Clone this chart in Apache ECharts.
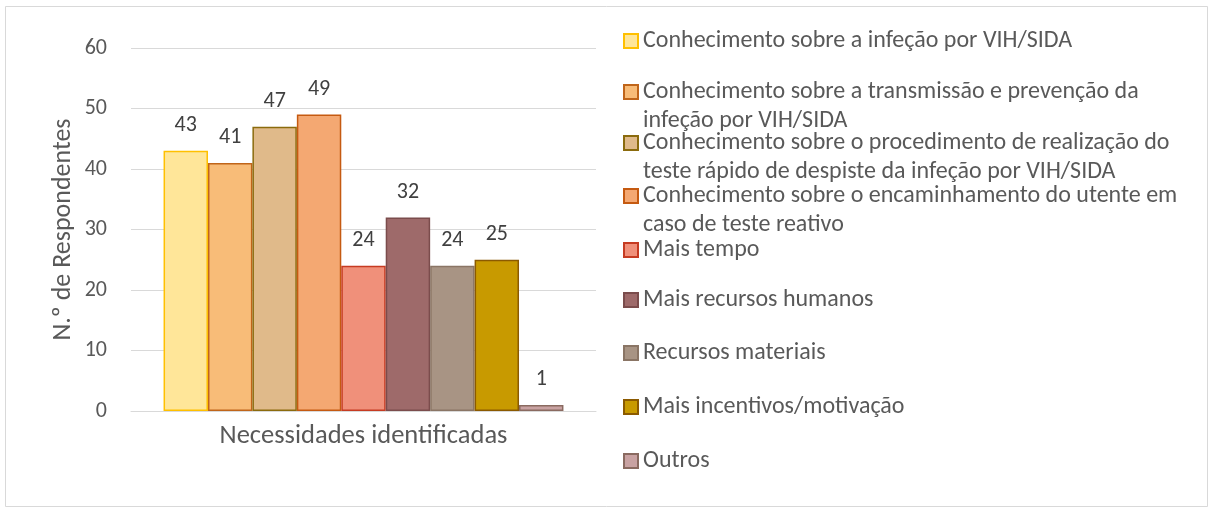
<!DOCTYPE html>
<html>
<head>
<meta charset="utf-8">
<script src="https://cdn.jsdelivr.net/npm/echarts@6/dist/echarts.min.js"></script>
<style>
html,body{margin:0;padding:0;background:#fff;}
#chart{width:1209px;height:508px;}
</style>
</head>
<body>
<div id="chart"></div>
<script>
const category = ['Necessidades identificadas'];
const seriesNames = [
  'Conhecimento sobre a infeção por VIH/SIDA',
  'Conhecimento sobre a transmissão e prevenção da infeção por VIH/SIDA',
  'Conhecimento sobre o procedimento de realização do teste rápido de despiste da infeção por VIH/SIDA',
  'Conhecimento sobre o encaminhamento do utente em caso de teste reativo',
  'Mais tempo',
  'Mais recursos humanos',
  'Recursos materiais',
  'Mais incentivos/motivação',
  'Outros'
];
const legendLines = [
  ['Conhecimento sobre a infeção por VIH/SIDA'],
  ['Conhecimento sobre a transmissão e prevenção da', 'infeção por VIH/SIDA'],
  ['Conhecimento sobre o procedimento de realização do', 'teste rápido de despiste da infeção por VIH/SIDA'],
  ['Conhecimento sobre o encaminhamento do utente em', 'caso de teste reativo'],
  ['Mais tempo'],
  ['Mais recursos humanos'],
  ['Recursos materiais'],
  ['Mais incentivos/motivação'],
  ['Outros']
];
const values = [43, 41, 47, 49, 24, 32, 24, 25, 1];
const yTicks = [0, 10, 20, 30, 40, 50, 60];

const fills = ['#FFE699', '#F8BC78', '#E0BA8A', '#F4A872', '#F0907A', '#9E6A6A', '#A89484', '#C89A00', '#C9A2A2'];
const borders = ['#FFC000', '#C0651A', '#8B6B0D', '#C55A11', '#C63B22', '#7B4C4C', '#8A7565', '#8B5A00', '#8A6A60'];
const legendCenters = [41, 92, 143, 196, 250, 300, 353, 407, 461];

const FONT = 'Carlito, Lato, sans-serif';
const LH = 29;

const chart = echarts.init(document.getElementById('chart'));

const legends = seriesNames.map((name, i) => {
  const lines = legendLines[i];
  const multi = lines.length > 1;
  return {
    data: [name],
    orient: 'vertical',
    left: 623,
    top: multi ? legendCenters[i] - 1.5 * LH : legendCenters[i] - LH / 2,
    padding: 0,
    itemWidth: 14,
    itemHeight: 14,
    itemGap: 0,
    selectedMode: false,
    icon: 'rect',
    formatter: () => (multi ? '\n' : '') + lines.join('\n'),
    textStyle: {
      fontFamily: FONT,
      fontSize: 24,
      color: '#595959',
      lineHeight: LH
    }
  };
});

const series = seriesNames.map((name, i) => ({
  name: name,
  type: 'bar',
  data: [values[i]],
  barGap: '0%',
  barCategoryGap: '14%',
  itemStyle: { color: fills[i], borderColor: borders[i], borderWidth: 1.5 },
  label: {
    show: true,
    position: 'top',
    distance: 14,
    fontFamily: FONT,
    fontSize: 22,
    color: '#404040'
  }
}));

chart.setOption({
  animation: false,
  backgroundColor: '#ffffff',
  textStyle: { fontFamily: FONT },
  graphic: [{
    type: 'rect',
    shape: { x: 5.5, y: 6.5, width: 1202, height: 500 },
    style: { fill: 'none', stroke: '#d9d9d9', lineWidth: 1 },
    silent: true
  }],
  legend: legends,
  grid: { left: 131, right: 1209 - 596, top: 48, bottom: 508 - 411, containLabel: false },
  xAxis: {
    type: 'category',
    data: category,
    axisLine: { show: true, lineStyle: { color: '#d9d9d9', width: 1 } },
    axisTick: { show: false },
    axisLabel: { fontFamily: FONT, fontSize: 26.5, color: '#595959', margin: 12 }
  },
  yAxis: {
    type: 'value',
    min: yTicks[0],
    max: yTicks[yTicks.length - 1],
    interval: 10,
    name: 'N.º de Respondentes',
    nameLocation: 'middle',
    nameGap: 55,
    nameTextStyle: { fontFamily: FONT, fontSize: 26, color: '#595959' },
    axisLine: { show: false },
    axisTick: { show: false },
    axisLabel: { fontFamily: FONT, fontSize: 22, color: '#595959', margin: 24 },
    splitLine: { lineStyle: { color: '#d9d9d9', width: 1 } }
  },
  series: series
});
</script>
</body>
</html>
